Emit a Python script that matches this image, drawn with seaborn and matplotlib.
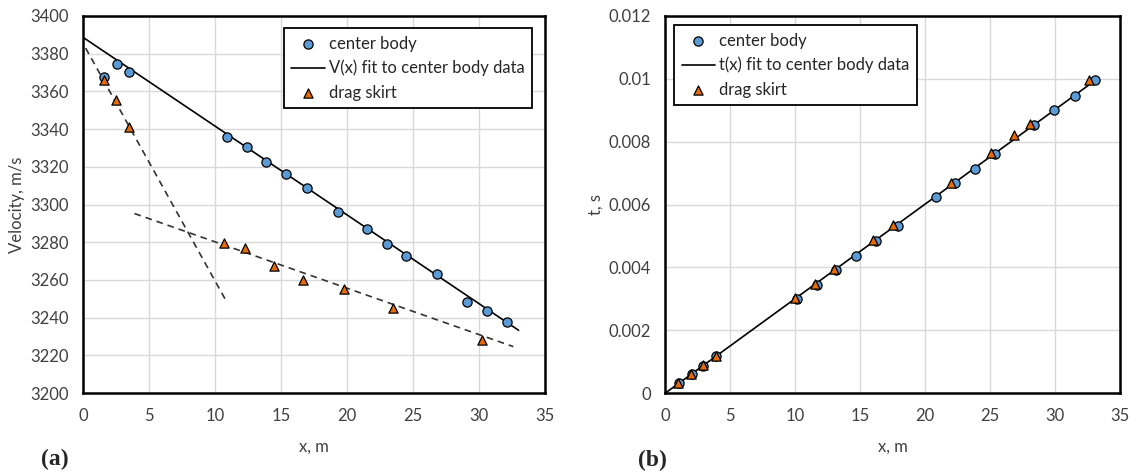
import numpy as np
import pandas as pd
import matplotlib
matplotlib.use("Agg")
import matplotlib.pyplot as plt
from matplotlib.ticker import MultipleLocator, FuncFormatter
import seaborn as sns

# ---------------- data: panel (a) velocity ----------------
cb_vx = [1.6, 2.55, 3.48, 10.88, 12.42, 13.9, 15.4, 17.0, 19.3, 21.5, 23.0, 24.5, 26.8, 29.1, 30.6, 32.1]
cb_v = [3367.8, 3374.4, 3370.5, 3336.0, 3330.5, 3322.4, 3316.2, 3308.8, 3296.0, 3287.2, 3279.2, 3272.5, 3263.0, 3248.3, 3243.7, 3237.8]
ds_vx = [1.6, 2.5, 3.46, 10.7, 12.27, 14.47, 16.7, 19.77, 23.5, 30.2]
ds_v = [3366.0, 3355.4, 3341.3, 3279.8, 3276.8, 3267.4, 3260.0, 3255.3, 3245.3, 3228.0]

# linear fits (intercept, slope, x-start, x-end)
v_fit = [3388.7, -4.71, 0.0, 33.0]
ds_fit1 = [3385.5, -12.6, 0.2, 10.8]
ds_fit2 = [3304.8, -2.46, 3.9, 32.6]

# ---------------- data: panel (b) time ----------------
cb_tx = [1.05, 2.05, 2.95, 3.95, 10.13, 11.67, 13.15, 14.67, 16.23, 17.9, 20.85, 22.3, 23.85, 25.4, 28.4, 29.95, 31.5, 33.1]
cb_t = [0.000318, 0.000605, 0.000869, 0.001165, 0.00299, 0.00345, 0.0039, 0.00437, 0.00483, 0.00532,
        0.00623, 0.00668, 0.00714, 0.00762, 0.00854, 0.00902, 0.00946, 0.00995]
ds_tx = [1.0, 2.0, 2.95, 3.9, 10.02, 11.54, 13.0, 15.97, 17.57, 22.03, 25.05, 26.85, 28.1, 32.6]
ds_t = [0.00032, 0.00061, 0.00088, 0.00118, 0.00302, 0.00348, 0.00395, 0.00488, 0.00535, 0.0067,
        0.00764, 0.00822, 0.00857, 0.00997]
t_fit = [-0.00001, 0.000301, 0.05, 33.2]

BLUE = "#5B9BD5"
ORANGE = "#E46C0A"
TXT = "#404040"

sns.set_style("white")
plt.rcParams["font.family"] = ["Lato", "DejaVu Sans"]

fig = plt.figure(figsize=(11.35, 4.74), dpi=100)
axA = fig.add_axes([83/1135, 81/474, 462/1135, 377/474])
axB = fig.add_axes([665/1135, 81/474, 455/1135, 377/474])


def fit_frame(fit, n=50):
    b, m, x0, x1 = fit
    xs = np.linspace(x0, x1, n)
    return pd.DataFrame({"x": xs, "y": b + m * xs})


def style_axes(ax):
    for s in ax.spines.values():
        s.set_color("black")
        s.set_linewidth(1.8)
    ax.grid(True, which="major", color="#d9d9d9", linewidth=1.0)
    ax.set_axisbelow(True)
    ax.tick_params(which="both", direction="in", top=False, right=False,
                   colors="black", labelcolor=TXT, labelsize=12)
    ax.tick_params(which="major", length=5, width=1.3)
    ax.tick_params(which="minor", length=3.5, width=1.3)
    ax.tick_params(axis="x", which="major", pad=11)
    ax.tick_params(axis="y", which="major", pad=10)


mk = dict(s=44, edgecolor="black", linewidth=0.9, zorder=5)
legkw = dict(fontsize=12, frameon=True, fancybox=False, edgecolor="black", framealpha=1,
             handlelength=2.0, handletextpad=0.25, labelspacing=0.5, borderpad=0.45,
             borderaxespad=0.0)

# ---- panel (a)
sns.scatterplot(x=cb_vx, y=cb_v, marker="o", color=BLUE, label="center body", ax=axA, **mk)
fa = fit_frame(v_fit)
sns.lineplot(data=fa, x="x", y="y", color="black", linewidth=1.2, label="V(x) fit to center body data", ax=axA, zorder=3)
sns.scatterplot(x=ds_vx, y=ds_v, marker="^", color=ORANGE, label="drag skirt", ax=axA, **mk)
for f in (ds_fit1, ds_fit2):
    d = fit_frame(f)
    sns.lineplot(data=d, x="x", y="y", color="#333333", linewidth=1.2, linestyle=(0, (4, 3)),
                 label="_nolegend_", ax=axA, zorder=3)

axA.set_xlim(0, 35)
axA.set_ylim(3200, 3400)
axA.xaxis.set_major_locator(MultipleLocator(5))
axA.xaxis.set_minor_locator(MultipleLocator(1))
axA.yaxis.set_major_locator(MultipleLocator(20))
axA.yaxis.set_minor_locator(MultipleLocator(4))
style_axes(axA)
axA.set_xlabel("x, m", fontsize=12, color=TXT, labelpad=10)
axA.set_ylabel("Velocity, m/s", fontsize=12, color=TXT, labelpad=4)
legA = axA.legend(loc="upper right", bbox_to_anchor=(0.972, 0.968), **legkw)
legA.get_frame().set_linewidth(1.3)

# ---- panel (b)
sns.scatterplot(x=cb_tx, y=cb_t, marker="o", color=BLUE, label="center body", ax=axB, **mk)
fb = fit_frame(t_fit)
sns.lineplot(data=fb, x="x", y="y", color="black", linewidth=1.2, label="t(x) fit to center body data", ax=axB, zorder=3)
sns.scatterplot(x=ds_tx, y=ds_t, marker="^", color=ORANGE, label="drag skirt", ax=axB, **mk)

axB.set_xlim(0, 35)
axB.set_ylim(0, 0.012)
axB.xaxis.set_major_locator(MultipleLocator(5))
axB.xaxis.set_minor_locator(MultipleLocator(1))
axB.yaxis.set_major_locator(MultipleLocator(0.002))
axB.yaxis.set_minor_locator(MultipleLocator(0.0004))
axB.yaxis.set_major_formatter(FuncFormatter(lambda v, p: "0" if abs(v) < 1e-12 else f"{v:g}"))
style_axes(axB)
axB.set_xlabel("x, m", fontsize=12, color=TXT, labelpad=10)
axB.set_ylabel("t, s", fontsize=12, color=TXT, labelpad=4)
legB = axB.legend(loc="upper left", bbox_to_anchor=(0.02, 0.976), **legkw)
legB.get_frame().set_linewidth(1.3)

fig.text(55/1135, 1 - 459/474, "(a)", family="Liberation Serif", fontweight="bold",
         fontsize=17, ha="center", va="center")
fig.text(652/1135, 1 - 460/474, "(b)", family="Liberation Serif", fontweight="bold",
         fontsize=17, ha="center", va="center")

fig.savefig("out.png", dpi=100)
